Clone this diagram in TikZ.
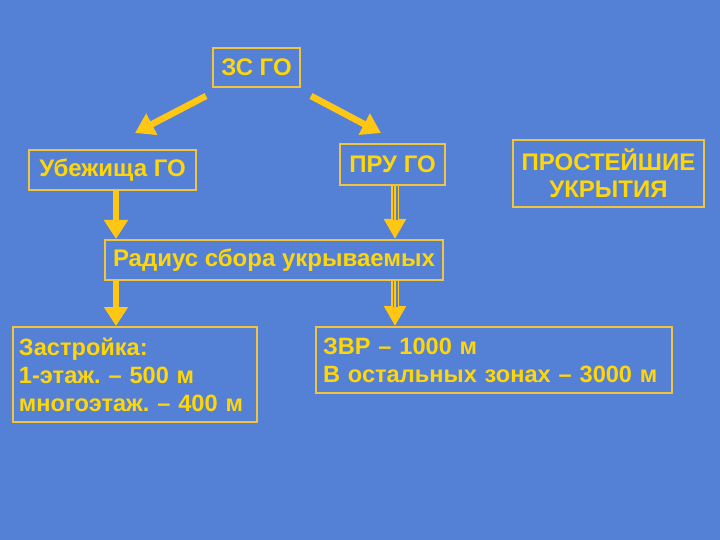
\documentclass[tikz,border=0pt]{standalone}
\usepackage{fontspec}
\setmainfont{Liberation Sans}
\usetikzlibrary{arrows.meta}
\frenchspacing
\definecolor{fon}{RGB}{84,128,214}
\definecolor{zheltyj}{RGB}{255,214,10}
\definecolor{ramka}{RGB}{240,196,60}
\definecolor{strelka}{RGB}{255,198,20}
\tikzset{
  box/.style={draw=ramka, line width=2pt, text=zheltyj, inner sep=0pt, align=center,
    font=\bfseries\fontsize{24}{28}\selectfont},
  fat/.style={strelka, line width=6.5pt, -{Triangle[width=23pt,length=19pt]}},
  tri/.style={strelka, line width=8pt, -{Triangle[width=21pt,length=20pt]},
    postaction={draw=fon, line width=5pt, -, shorten >=19pt},
    postaction={draw=strelka, line width=1.5pt, -, shorten >=19pt}}
}
\begin{document}
\begin{tikzpicture}[x=1pt,y=-1pt]
\fill[fon] (0,0) rectangle (720,540);
\useasboundingbox (0,0) rectangle (720,540);

   \node[box, minimum width=87, minimum height=39] at (256.5,67.5) (zs) {ЗС ГО};
   \node[box, minimum width=167, minimum height=40] at (112.5,170) (ub) {Убежища ГО};
   \node[box, minimum width=105, minimum height=41] at (392.5,164.5) (pru) {ПРУ ГО};
   \node[box, minimum width=191, minimum height=67, font=\bfseries\fontsize{24}{27}\selectfont] at (608.5,173.5) (pr) {ПРОСТЕЙШИЕ\\УКРЫТИЯ};
   \node[box, minimum width=338, minimum height=40] at (274,260) (rad) {Радиус сбора укрываемых};
   \node[box, text width=232, inner xsep=6, minimum height=95, align=left, font=\bfseries\fontsize{23.6}{28}\selectfont] at (135,374.5) (zas) {Застройка:\\1-этаж. -- 500 м\\многоэтаж. -- 400 м};
   \node[box, text width=342, inner xsep=7, minimum height=66, align=left, font=\bfseries\fontsize{23.6}{28}\selectfont] at (494,360) (zvr) {ЗВР -- 1000 м\\В остальных зонах -- 3000 м};

    % from ZS GO
    \draw[fat] ([shift={(-6,8)}]zs.south west) -- ([shift={(22.5,-16)}]ub.north);
    \draw[fat] ([shift={(10,8)}]zs.south east) -- ([shift={(-11.5,-10)}]pru.north);

    % down to the radius
    \draw[fat] ([xshift=3.5]ub.south) -- ([xshift=3.5]ub.south |- rad.north);
    \draw[tri] ([xshift=2.5]pru.south) -- ([xshift=2.5]pru.south |- rad.north);

    % down to the numbers
    \draw[fat] ([xshift=3.5]ub.south |- rad.south) -- ([xshift=3.5]ub.south |- zas.north);
    \draw[tri] ([xshift=2.5]pru.south |- rad.south) -- ([xshift=2.5]pru.south |- zvr.north);

\end{tikzpicture}
\end{document}
